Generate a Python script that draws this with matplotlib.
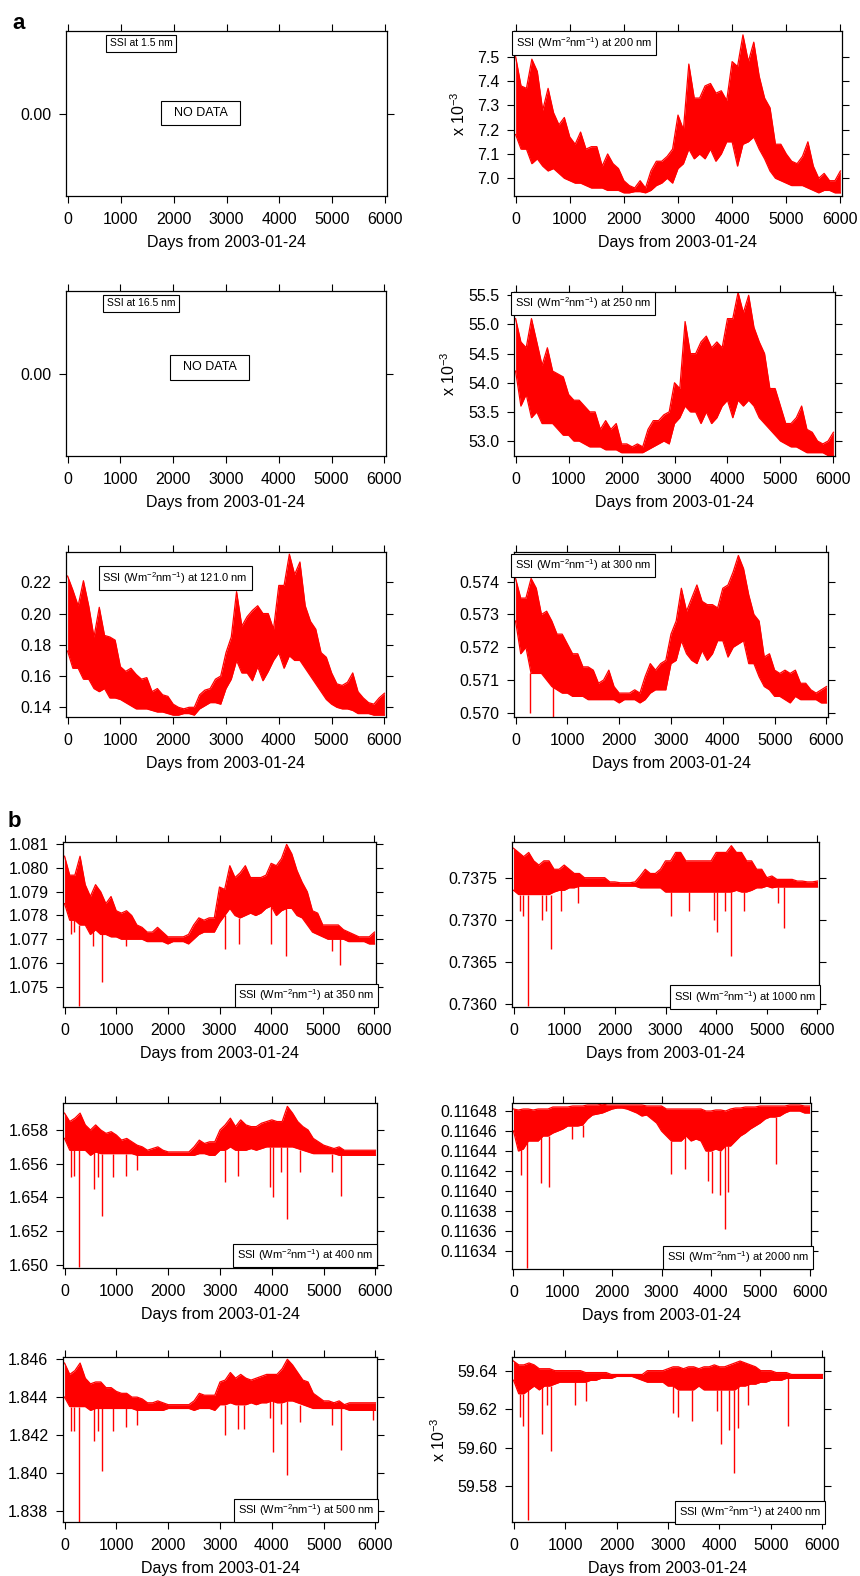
import numpy as np
import matplotlib
matplotlib.use('Agg')
from matplotlib import pyplot as plt
from matplotlib.ticker import FormatStrFormatter

plt.rcParams['font.family'] = ['Liberation Sans', 'DejaVu Sans']
plt.rcParams['mathtext.fontset'] = 'custom'
plt.rcParams['mathtext.rm'] = 'Liberation Sans'
plt.rcParams['mathtext.it'] = 'Liberation Sans:italic'
plt.rcParams['mathtext.default'] = 'regular'

# sampling grid (days from 2003-01-24), envelopes read every 100 days
DAYS = list(range(0, 6001, 100))
XTICKS = [0, 1000, 2000, 3000, 4000, 5000, 6000]
XLABEL = 'Days from 2003-01-24'

# --- panel a ---
SSI200_HI = [7.50, 7.38, 7.37, 7.49, 7.44, 7.28, 7.37, 7.27, 7.22, 7.25,
             7.17, 7.14, 7.19, 7.12, 7.13, 7.13, 7.05, 7.10, 7.06, 7.04,
             6.99, 6.97, 6.96, 6.99, 6.96, 7.03, 7.07, 7.07, 7.09, 7.12,
             7.26, 7.20, 7.47, 7.33, 7.33, 7.38, 7.39, 7.35, 7.36, 7.32,
             7.48, 7.46, 7.59, 7.48, 7.56, 7.42, 7.33, 7.29, 7.14, 7.14,
             7.10, 7.07, 7.06, 7.09, 7.15, 7.05, 7.00, 7.02, 6.99, 6.99, 7.03]
SSI200_LO = [7.18, 7.12, 7.12, 7.06, 7.08, 7.05, 7.03, 7.04, 7.02, 7.00,
             6.99, 6.98, 6.98, 6.97, 6.96, 6.96, 6.96, 6.95, 6.95, 6.95,
             6.94, 6.94, 6.945, 6.945, 6.94, 6.95, 6.97, 6.98, 7.00, 6.98,
             7.04, 7.06, 7.12, 7.08, 7.10, 7.08, 7.12, 7.07, 7.10, 7.15,
             7.15, 7.05, 7.14, 7.15, 7.17, 7.12, 7.08, 7.03, 7.00, 6.99,
             6.98, 6.97, 6.97, 6.97, 6.96, 6.95, 6.94, 6.95, 6.95, 6.94, 6.94]

SSI121_HI = [0.224, 0.215, 0.205, 0.221, 0.205, 0.185, 0.204, 0.186, 0.185, 0.183,
             0.166, 0.163, 0.165, 0.161, 0.158, 0.159, 0.150, 0.152, 0.148, 0.147,
             0.142, 0.140, 0.139, 0.140, 0.140, 0.148, 0.151, 0.152, 0.158, 0.160,
             0.175, 0.185, 0.214, 0.192, 0.198, 0.202, 0.205, 0.200, 0.200, 0.190,
             0.218, 0.218, 0.238, 0.225, 0.233, 0.205, 0.195, 0.190, 0.175, 0.172,
             0.162, 0.155, 0.154, 0.156, 0.162, 0.150, 0.146, 0.143, 0.142, 0.146, 0.149]
SSI121_LO = [0.176, 0.165, 0.165, 0.158, 0.158, 0.152, 0.150, 0.152, 0.146, 0.146,
             0.145, 0.143, 0.141, 0.139, 0.139, 0.139, 0.138, 0.137, 0.137, 0.136,
             0.135, 0.135, 0.136, 0.136, 0.135, 0.139, 0.141, 0.143, 0.143, 0.142,
             0.152, 0.158, 0.170, 0.162, 0.162, 0.157, 0.166, 0.157, 0.163, 0.170,
             0.175, 0.165, 0.173, 0.170, 0.170, 0.165, 0.160, 0.155, 0.150, 0.145,
             0.142, 0.140, 0.139, 0.139, 0.138, 0.136, 0.136, 0.136, 0.135, 0.135, 0.135]

SSI250_HI = [55.10, 54.70, 54.60, 55.10, 54.70, 54.30, 54.60, 54.20, 54.15, 54.10,
             53.80, 53.70, 53.70, 53.60, 53.50, 53.50, 53.20, 53.35, 53.20, 53.30,
             52.95, 52.95, 52.90, 52.95, 52.90, 53.20, 53.35, 53.35, 53.45, 53.50,
             54.00, 53.90, 55.05, 54.50, 54.50, 54.70, 54.80, 54.60, 54.70, 54.60,
             55.10, 55.10, 55.55, 55.20, 55.50, 54.95, 54.70, 54.50, 53.90, 53.90,
             53.60, 53.30, 53.30, 53.40, 53.60, 53.20, 53.15, 53.00, 52.95, 53.00, 53.15]
SSI250_LO = [54.20, 53.60, 53.80, 53.40, 53.50, 53.30, 53.30, 53.30, 53.20, 53.10,
             53.10, 53.00, 53.00, 52.95, 52.90, 52.90, 52.90, 52.85, 52.85, 52.85,
             52.80, 52.80, 52.80, 52.80, 52.80, 52.85, 52.90, 52.95, 53.00, 52.95,
             53.30, 53.40, 53.60, 53.50, 53.50, 53.30, 53.50, 53.30, 53.40, 53.60,
             53.70, 53.40, 53.70, 53.60, 53.70, 53.60, 53.40, 53.30, 53.20, 53.10,
             53.00, 52.95, 52.90, 52.90, 52.85, 52.80, 52.80, 52.80, 52.80, 52.75, 52.75]

SSI300_HI = [0.5741, 0.5735, 0.5735, 0.5741, 0.5738, 0.5730, 0.5731, 0.5728, 0.5724, 0.5724,
             0.5721, 0.5718, 0.5718, 0.5714, 0.5714, 0.5713, 0.5709, 0.5710, 0.5713, 0.5708,
             0.5706, 0.5706, 0.5706, 0.5707, 0.5706, 0.5711, 0.5715, 0.5713, 0.5715, 0.5716,
             0.5724, 0.5728, 0.5738, 0.5731, 0.5735, 0.5739, 0.5734, 0.5733, 0.5733, 0.5732,
             0.5738, 0.5739, 0.5743, 0.5748, 0.5744, 0.5736, 0.5730, 0.5728, 0.5717, 0.5718,
             0.5713, 0.5712, 0.5713, 0.5712, 0.5713, 0.5709, 0.5709, 0.5707, 0.5706, 0.5707, 0.5708]
SSI300_LO = [0.5728, 0.5718, 0.5720, 0.5712, 0.5712, 0.5712, 0.5710, 0.5708, 0.5707, 0.5706,
             0.5706, 0.5705, 0.5705, 0.5705, 0.5704, 0.5704, 0.5704, 0.5704, 0.5704, 0.5704,
             0.5703, 0.5704, 0.5704, 0.5704, 0.5703, 0.5704, 0.5706, 0.5707, 0.5707, 0.5707,
             0.5715, 0.5716, 0.5722, 0.5718, 0.5716, 0.5715, 0.5719, 0.5716, 0.5718, 0.5722,
             0.5722, 0.5717, 0.5720, 0.5721, 0.5722, 0.5715, 0.5715, 0.5711, 0.5708, 0.5707,
             0.5705, 0.5705, 0.5704, 0.5703, 0.5705, 0.5704, 0.5704, 0.5704, 0.5704, 0.5703, 0.5703]
SSI300_SPIKE_DAYS = [280, 730]
SSI300_SPIKE_VALS = [0.5700, 0.56988]

# --- panel b ---
SSI350_HI = [1.0805, 1.0797, 1.0797, 1.0805, 1.0793, 1.0788, 1.0793, 1.0790, 1.0785, 1.0788,
             1.0782, 1.0781, 1.0782, 1.0780, 1.0776, 1.0775, 1.0773, 1.0773, 1.0775, 1.0773,
             1.0771, 1.0771, 1.0771, 1.0771, 1.0772, 1.0776, 1.0779, 1.0778, 1.0779, 1.0779,
             1.0792, 1.0791, 1.0801, 1.0796, 1.0798, 1.0801, 1.0796, 1.0796, 1.0796, 1.0797,
             1.0802, 1.0801, 1.0804, 1.0810, 1.0806, 1.0799, 1.0794, 1.0790, 1.0782, 1.0781,
             1.0776, 1.0776, 1.0776, 1.0776, 1.0774, 1.0773, 1.0772, 1.0771, 1.0771, 1.0771, 1.0773]
SSI350_LO = [1.0785, 1.0778, 1.0778, 1.0776, 1.0776, 1.0772, 1.0774, 1.0772, 1.0772, 1.0771,
             1.0771, 1.0770, 1.0770, 1.0770, 1.0770, 1.0770, 1.0769, 1.0769, 1.0769, 1.0769,
             1.0768, 1.0769, 1.0769, 1.0769, 1.0768, 1.0770, 1.0772, 1.0773, 1.0773, 1.0773,
             1.0777, 1.0780, 1.0783, 1.0780, 1.0779, 1.0780, 1.0781, 1.0780, 1.0781, 1.0783,
             1.0784, 1.0780, 1.0782, 1.0783, 1.0783, 1.0780, 1.0779, 1.0776, 1.0773, 1.0772,
             1.0771, 1.0770, 1.0770, 1.0770, 1.0770, 1.0769, 1.0769, 1.0769, 1.0769, 1.0768, 1.0768]
SSI350_SPIKE_DAYS = [120, 180, 280, 560, 730, 1190, 3100, 3370, 4000, 4290, 5170, 5330]
SSI350_SPIKE_VALS = [1.0772, 1.0773, 1.0742, 1.0767, 1.0752, 1.0767, 1.0766, 1.0768,
                     1.0768, 1.0763, 1.0765, 1.0759]

SSI1000_HI = [0.73785, 0.7378, 0.73775, 0.7378, 0.7377, 0.73765, 0.7377, 0.7377, 0.7376, 0.7376,
              0.73765, 0.7376, 0.73755, 0.73755, 0.7375, 0.7375, 0.7375, 0.7375, 0.7375, 0.73745,
              0.73745, 0.73744, 0.73744, 0.73744, 0.73745, 0.73752, 0.7376, 0.73755, 0.73755, 0.7376,
              0.7377, 0.7377, 0.7378, 0.7378, 0.7377, 0.7377, 0.7377, 0.7377, 0.7377, 0.7377,
              0.7378, 0.7378, 0.7378, 0.73788, 0.7378, 0.7378, 0.7377, 0.7377, 0.7376, 0.7376,
              0.7375, 0.73752, 0.73748, 0.73748, 0.73748, 0.73748, 0.73746, 0.73746, 0.73745, 0.73745, 0.73746]
SSI1000_LO = [0.73735, 0.7373, 0.7373, 0.7373, 0.7373, 0.7373, 0.7373, 0.7373, 0.73733, 0.73735,
              0.73735, 0.73738, 0.73738, 0.7374, 0.7374, 0.7374, 0.7374, 0.7374, 0.7374, 0.7374,
              0.7374, 0.7374, 0.7374, 0.7374, 0.7374, 0.73738, 0.73738, 0.73738, 0.73738, 0.73738,
              0.73733, 0.73733, 0.73733, 0.73733, 0.73733, 0.73733, 0.73733, 0.73733, 0.73733, 0.73733,
              0.73733, 0.73733, 0.73733, 0.73733, 0.73735, 0.73733, 0.73733, 0.73735, 0.73738, 0.73738,
              0.7374, 0.73738, 0.73739, 0.73739, 0.73739, 0.73739, 0.73739, 0.73739, 0.73739, 0.73739, 0.73739]
SSI1000_SPIKE_DAYS = [120, 180, 280, 560, 650, 730, 930, 1270, 3100, 3470, 3960, 4020,
                      4180, 4290, 4550, 5230, 5330]
SSI1000_SPIKE_VALS = [0.7371, 0.73705, 0.73598, 0.7370, 0.7371, 0.73665, 0.7371, 0.7372,
                      0.73705, 0.7371, 0.7370, 0.73685, 0.7371, 0.73657, 0.7371, 0.7372, 0.7369]

SSI400_HI = [1.6590, 1.6585, 1.6587, 1.6590, 1.6583, 1.6580, 1.6583, 1.6580, 1.6578, 1.6579,
             1.6577, 1.6574, 1.6575, 1.6573, 1.6571, 1.6570, 1.6568, 1.6569, 1.6570, 1.6568,
             1.6567, 1.6567, 1.6567, 1.6567, 1.6567, 1.6570, 1.6574, 1.6572, 1.6573, 1.6573,
             1.6580, 1.6583, 1.6587, 1.6582, 1.6586, 1.6583, 1.6582, 1.6582, 1.6584, 1.6585,
             1.6586, 1.6585, 1.6585, 1.6594, 1.6590, 1.6585, 1.6582, 1.6580, 1.6575, 1.6573,
             1.6571, 1.6570, 1.6569, 1.6570, 1.6568, 1.6568, 1.6568, 1.6568, 1.6568, 1.6568, 1.6568]
SSI400_LO = [1.6575, 1.6568, 1.6568, 1.6568, 1.6568, 1.6565, 1.6567, 1.6566, 1.6566, 1.6566,
             1.6566, 1.6566, 1.6566, 1.6566, 1.6565, 1.6565, 1.6565, 1.6565, 1.6565, 1.6565,
             1.6565, 1.6565, 1.6565, 1.6565, 1.6565, 1.6565, 1.6566, 1.6566, 1.6565, 1.6565,
             1.6568, 1.6568, 1.6570, 1.6568, 1.6568, 1.6568, 1.6569, 1.6568, 1.6569, 1.6570,
             1.6570, 1.6570, 1.6570, 1.6570, 1.6570, 1.6569, 1.6568, 1.6567, 1.6566, 1.6566,
             1.6566, 1.6566, 1.6566, 1.6565, 1.6565, 1.6565, 1.6565, 1.6565, 1.6565, 1.6565, 1.6565]
SSI400_SPIKE_DAYS = [120, 180, 280, 560, 650, 730, 930, 1190, 1400, 3100, 3340, 3970,
                     4020, 4180, 4290, 4550, 5170, 5330]
SSI400_SPIKE_VALS = [1.6552, 1.6553, 1.6499, 1.6545, 1.6552, 1.6529, 1.6552, 1.6553, 1.6556,
                     1.6549, 1.6553, 1.6546, 1.6540, 1.6555, 1.6527, 1.6555, 1.6555, 1.6541]

SSI2000_HI = [0.116482, 0.116481, 0.116482, 0.116482, 0.116481, 0.116482, 0.116482, 0.116482, 0.116484, 0.116484,
              0.116484, 0.116484, 0.116485, 0.116485, 0.116485, 0.116486, 0.116486, 0.116486, 0.116487, 0.116486,
              0.116486, 0.116486, 0.116486, 0.116486, 0.116486, 0.116486, 0.116486, 0.116485, 0.116485, 0.116485,
              0.116485, 0.116482, 0.116482, 0.116482, 0.116482, 0.116482, 0.116482, 0.116482, 0.116482, 0.116480,
              0.116480, 0.116481, 0.116481, 0.116480, 0.116482, 0.116483, 0.116483, 0.116484, 0.116484, 0.116484,
              0.116485, 0.116485, 0.116485, 0.116485, 0.116485, 0.116485, 0.116486, 0.116486, 0.116486, 0.116485, 0.116485]
SSI2000_LO = [0.116460, 0.116440, 0.116442, 0.116450, 0.116450, 0.116450, 0.116455, 0.116455, 0.116458, 0.116460,
              0.116462, 0.116465, 0.116465, 0.116465, 0.116466, 0.116472, 0.116476, 0.116477, 0.116478, 0.116480,
              0.116482, 0.116483, 0.116483, 0.116482, 0.116480, 0.116478, 0.116475, 0.116476, 0.116472, 0.116468,
              0.116460, 0.116455, 0.116450, 0.116450, 0.116450, 0.116455, 0.116450, 0.116452, 0.116450, 0.116440,
              0.116440, 0.116442, 0.116440, 0.116445, 0.116445, 0.116450, 0.116455, 0.116458, 0.116462, 0.116465,
              0.116468, 0.116472, 0.116474, 0.116474, 0.116475, 0.116478, 0.116480, 0.116480, 0.116480, 0.116478, 0.116478]
SSI2000_SPIKE_DAYS = [150, 280, 560, 730, 1190, 1400, 3200, 3470, 3950, 4020, 4180, 4290, 4350, 5330]
SSI2000_SPIKE_VALS = [0.116416, 0.116323, 0.116408, 0.116404, 0.116452, 0.116454, 0.116417,
                      0.116422, 0.116410, 0.116398, 0.116396, 0.116362, 0.116399, 0.116427]

SSI500_HI = [1.8458, 1.8452, 1.8454, 1.8458, 1.8450, 1.8447, 1.8448, 1.8448, 1.8445, 1.8445,
             1.8443, 1.8442, 1.8442, 1.8440, 1.8440, 1.8439, 1.8437, 1.8437, 1.8438, 1.8437,
             1.8436, 1.8436, 1.8436, 1.8436, 1.8436, 1.8438, 1.8442, 1.8441, 1.8441, 1.8441,
             1.8448, 1.8449, 1.8453, 1.8450, 1.8452, 1.8450, 1.8449, 1.8450, 1.8451, 1.8452,
             1.8452, 1.8452, 1.8455, 1.8460, 1.8457, 1.8453, 1.8449, 1.8448, 1.8442, 1.8440,
             1.8438, 1.8438, 1.8437, 1.8438, 1.8436, 1.8437, 1.8437, 1.8437, 1.8437, 1.8437, 1.8437]
SSI500_LO = [1.8440, 1.8435, 1.8435, 1.8435, 1.8435, 1.8433, 1.8434, 1.8434, 1.8434, 1.8434,
             1.8434, 1.8434, 1.8434, 1.8434, 1.8433, 1.8433, 1.8433, 1.8433, 1.8433, 1.8433,
             1.8434, 1.8434, 1.8434, 1.8434, 1.8434, 1.8433, 1.8434, 1.8434, 1.8434, 1.8433,
             1.8436, 1.8436, 1.8437, 1.8436, 1.8436, 1.8436, 1.8437, 1.8436, 1.8437, 1.8437,
             1.8438, 1.8437, 1.8437, 1.8438, 1.8438, 1.8437, 1.8436, 1.8435, 1.8434, 1.8434,
             1.8434, 1.8434, 1.8434, 1.8434, 1.8434, 1.8433, 1.8433, 1.8433, 1.8433, 1.8433, 1.8433]
SSI500_SPIKE_DAYS = [120, 180, 280, 560, 650, 730, 930, 1190, 1400, 3100, 3340, 3460,
                     3970, 4020, 4180, 4290, 4550, 5170, 5330, 5960]
SSI500_SPIKE_VALS = [1.8422, 1.8422, 1.8374, 1.8417, 1.8422, 1.8401, 1.8422, 1.8424, 1.8425,
                     1.8420, 1.8423, 1.8423, 1.8429, 1.8411, 1.8426, 1.8399, 1.8427, 1.8425,
                     1.8412, 1.8428]

SSI2400_HI = [59.645, 59.643, 59.643, 59.644, 59.643, 59.641, 59.641, 59.641, 59.640, 59.640,
              59.640, 59.640, 59.640, 59.640, 59.639, 59.639, 59.639, 59.639, 59.639, 59.638,
              59.638, 59.638, 59.638, 59.638, 59.638, 59.638, 59.640, 59.640, 59.640, 59.640,
              59.641, 59.642, 59.642, 59.641, 59.642, 59.642, 59.641, 59.642, 59.642, 59.643,
              59.642, 59.642, 59.643, 59.644, 59.645, 59.644, 59.643, 59.642, 59.640, 59.640,
              59.640, 59.639, 59.639, 59.639, 59.638, 59.638, 59.638, 59.638, 59.638, 59.638, 59.638]
SSI2400_LO = [59.635, 59.628, 59.628, 59.630, 59.632, 59.630, 59.632, 59.632, 59.633, 59.634,
              59.634, 59.634, 59.634, 59.634, 59.634, 59.635, 59.635, 59.636, 59.636, 59.636,
              59.637, 59.637, 59.637, 59.637, 59.636, 59.635, 59.634, 59.634, 59.634, 59.634,
              59.632, 59.632, 59.630, 59.630, 59.630, 59.630, 59.632, 59.630, 59.630, 59.630,
              59.630, 59.630, 59.630, 59.630, 59.632, 59.632, 59.633, 59.633, 59.634, 59.634,
              59.635, 59.635, 59.635, 59.636, 59.636, 59.636, 59.636, 59.636, 59.636, 59.636, 59.636]
SSI2400_SPIKE_DAYS = [120, 180, 280, 560, 650, 730, 1190, 1400, 3100, 3200, 3470, 3960,
                      4020, 4180, 4290, 4350, 4550, 5330]
SSI2400_SPIKE_VALS = [59.616, 59.611, 59.5625, 59.607, 59.622, 59.598, 59.622, 59.624, 59.618,
                      59.616, 59.614, 59.619, 59.602, 59.609, 59.587, 59.610, 59.622, 59.611]

UNITS = 'SSI (Wm$^{-2}$nm$^{-1}$)'

W, H = 860, 1576
fig = plt.figure(figsize=(W / 100, H / 100), dpi=100)


def px_axes(x0, y0, x1, y1):
    return fig.add_axes([x0 / W, 1 - y1 / H, (x1 - x0) / W, (y1 - y0) / H])


def style(ax, yticks, fmt):
    for s in ax.spines.values():
        s.set_linewidth(0.9)
    ax.set_xlim(-30, 6030)
    ax.set_xticks(XTICKS)
    ax.set_yticks(yticks)
    ax.yaxis.set_major_formatter(FormatStrFormatter(fmt))
    ax.tick_params(direction='out', length=5, width=0.8, labelsize=11.5,
                   top=True, right=True, labeltop=False, labelright=False)
    ax.tick_params(axis='x', pad=6.5)
    ax.tick_params(axis='y', pad=5.5)
    ax.set_xlabel(XLABEL, fontsize=11.5, labelpad=5.5)


def label_box(ax, x, y, s, size=8, pad=0.35):
    ax.text(x, y, s, transform=ax.transAxes, ha='center', va='center', fontsize=size,
            zorder=5, bbox=dict(boxstyle='square,pad=%s' % pad, fc='white', ec='black', lw=0.8))


def draw_series(ax, hi, lo, spike_days=None, spike_vals=None):
    ax.fill_between(DAYS, lo, hi, color='red', lw=0)
    ax.plot(DAYS, hi, color='red', lw=0.9)
    ax.plot(DAYS, lo, color='red', lw=0.9)
    if spike_days:
        tops = [lo[int(round(d / 100))] for d in spike_days]
        ax.vlines(spike_days, spike_vals, tops, color='red', lw=1.0)


def side_label(ax, xfrac):
    ax.set_ylabel('x 10$^{-3}$', fontsize=11.5)
    ax.yaxis.set_label_coords(xfrac, 0.5)


# ---------- panel a ----------
# no data panels
for rect, name, nd in [((66, 31, 387, 196), 'SSI at 1.5 nm', (0.419, 0.503)),
                       ((66, 291, 386, 456), 'SSI at 16.5 nm', (0.449, 0.537))]:
    ax = px_axes(*rect)
    ax.set_ylim(-1, 1)
    style(ax, [0], '%.2f')
    label_box(ax, 0.235, 0.925, name, size=7.5, pad=0.35)
    label_box(ax, nd[0], nd[1], '  NO DATA  ', size=9, pad=0.5)

ax = px_axes(514, 31, 842, 196)
draw_series(ax, SSI200_HI, SSI200_LO)
ax.set_ylim(6.927, 7.606)
style(ax, [7.0, 7.1, 7.2, 7.3, 7.4, 7.5], '%.1f')
side_label(ax, -0.14)
label_box(ax, 0.213, 0.927, UNITS + ' at 200 nm', size=8)

ax = px_axes(514, 292, 835, 456)
draw_series(ax, SSI250_HI, SSI250_LO)
ax.set_ylim(52.743, 55.557)
style(ax, [53.0, 53.5, 54.0, 54.5, 55.0, 55.5], '%.1f')
side_label(ax, -0.175)
label_box(ax, 0.216, 0.931, UNITS + ' at 250 nm', size=8)

ax = px_axes(66, 552, 386, 717)
draw_series(ax, SSI121_HI, SSI121_LO)
ax.set_ylim(0.1338, 0.2394)
style(ax, [0.14, 0.16, 0.18, 0.20, 0.22], '%.2f')
label_box(ax, 0.341, 0.842, UNITS + ' at 121.0 nm', size=8)

ax = px_axes(514, 552, 828, 717)
draw_series(ax, SSI300_HI, SSI300_LO, SSI300_SPIKE_DAYS, SSI300_SPIKE_VALS)
ax.set_ylim(0.56987, 0.574907)
style(ax, [0.570, 0.571, 0.572, 0.573, 0.574], '%.3f')
label_box(ax, 0.221, 0.918, UNITS + ' at 300 nm', size=8)

# ---------- panel b ----------
ax = px_axes(63, 842, 376, 1007)
draw_series(ax, SSI350_HI, SSI350_LO, SSI350_SPIKE_DAYS, SSI350_SPIKE_VALS)
ax.set_ylim(1.07414, 1.0811)
style(ax, [1.075, 1.076, 1.077, 1.078, 1.079, 1.080, 1.081], '%.3f')
label_box(ax, 0.778, 0.070, UNITS + ' at 350 nm')

ax = px_axes(512, 842, 819, 1007)
draw_series(ax, SSI1000_HI, SSI1000_LO, SSI1000_SPIKE_DAYS, SSI1000_SPIKE_VALS)
ax.set_ylim(0.735964, 0.737924)
style(ax, [0.7360, 0.7365, 0.7370, 0.7375], '%.4f')
label_box(ax, 0.759, 0.061, UNITS + ' at 1000 nm')

ax = px_axes(63, 1103, 377, 1268)
draw_series(ax, SSI400_HI, SSI400_LO, SSI400_SPIKE_DAYS, SSI400_SPIKE_VALS)
ax.set_ylim(1.64982, 1.6596)
style(ax, [1.650, 1.652, 1.654, 1.656, 1.658], '%.3f')
label_box(ax, 0.772, 0.076, UNITS + ' at 400 nm')

ax = px_axes(512, 1103, 811, 1269)
draw_series(ax, SSI2000_HI, SSI2000_LO, SSI2000_SPIKE_DAYS, SSI2000_SPIKE_VALS)
ax.set_ylim(0.116322, 0.116488)
style(ax, [0.11634, 0.11636, 0.11638, 0.11640, 0.11642, 0.11644, 0.11646, 0.11648], '%.5f')
label_box(ax, 0.756, 0.069, UNITS + ' at 2000 nm')

ax = px_axes(63, 1357, 377, 1522)
draw_series(ax, SSI500_HI, SSI500_LO, SSI500_SPIKE_DAYS, SSI500_SPIKE_VALS)
ax.set_ylim(1.8374, 1.84612)
style(ax, [1.838, 1.840, 1.842, 1.844, 1.846], '%.3f')
label_box(ax, 0.774, 0.070, UNITS + ' at 500 nm')

ax = px_axes(512, 1357, 824, 1522)
draw_series(ax, SSI2400_HI, SSI2400_LO, SSI2400_SPIKE_DAYS, SSI2400_SPIKE_VALS)
ax.set_ylim(59.5613, 59.6471)
style(ax, [59.58, 59.60, 59.62, 59.64], '%.2f')
side_label(ax, -0.205)
label_box(ax, 0.763, 0.058, UNITS + ' at 2400 nm')

fig.text(12 / W, 1 - 29 / H, 'a', fontsize=16, fontweight='bold', va='baseline')
fig.text(8 / W, 1 - 827 / H, 'b', fontsize=16, fontweight='bold', va='baseline')

fig.savefig('out.png', dpi=100)
